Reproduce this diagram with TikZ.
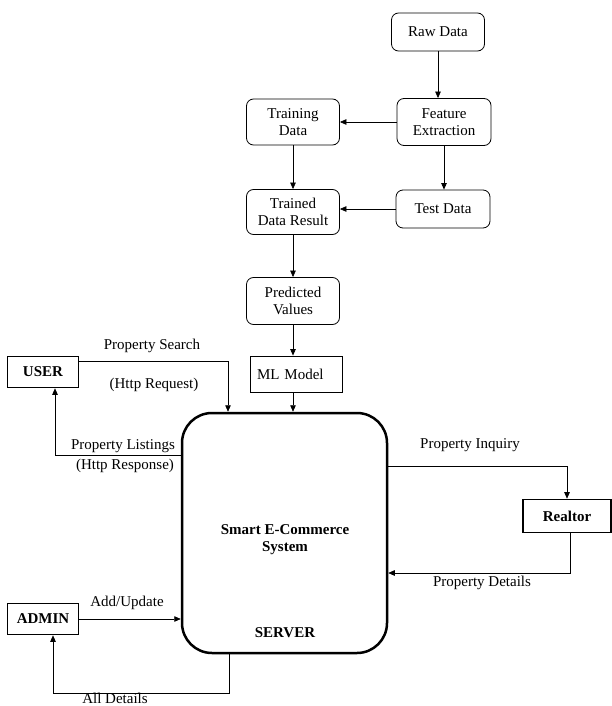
\documentclass[tikz,border=0pt]{standalone}
\usepackage{fontspec}
\setmainfont{Liberation Serif}
\usepackage{tikz}
\usetikzlibrary{arrows.meta, positioning, calc}

\begin{document}
\begin{tikzpicture}[
    x=1pt, y=-1pt,
    font=\fontsize{15}{17}\selectfont,
    databox/.style={rectangle, rounded corners=7pt, draw, line width=0.8pt, minimum width=93pt, align=center},
    actor/.style={rectangle, draw, line width=1.6pt, minimum width=71pt, minimum height=31pt, font=\fontsize{15}{17}\selectfont\bfseries},
    arrow/.style={-{Triangle[length=6.5pt, width=5.5pt]}, line width=0.7pt},
    flow/.style={font=\fontsize{15}{17}\selectfont}
]
    \useasboundingbox (0,0) rectangle (612,706);

    % ML pipeline
    \node[databox, minimum height=38pt] (raw) at (438,32) {Raw Data};
    \node[databox, minimum height=47pt, minimum width=94pt] (feature) at (444,122) {Feature\\Extraction};
    \node[databox, minimum height=46pt] (training) at (293,122) {Training\\Data};
    \node[databox, minimum height=45pt] (trained) at (293,212) {Trained\\Data Result};
    \node[databox, minimum height=38pt, minimum width=94pt] (test) at (443,209) {Test Data};
    \node[databox, minimum height=47pt] (predicted) at (293,301) {Predicted\\Values};
    \node[rectangle, draw, line width=0.8pt, minimum width=92pt, minimum height=36pt, text width=78pt] (ml) at (296,374) {ML Model};

    % Server
    \node[rectangle, draw, rounded corners=30pt, line width=2.5pt, minimum width=205pt, minimum height=240pt] (server) at (284.5,533) {};
    \node[font=\fontsize{15}{17}\selectfont\bfseries, align=center] (system) at (285,540) {Smart E-Commerce\\System};
    \node[font=\fontsize{15}{17}\selectfont\bfseries] (servername) at (285,633) {SERVER};

    % External entities
    \node[actor] (user) at (43,372) {USER};
    \node[actor] (admin) at (43,619) {ADMIN};
    \node[actor, minimum width=88pt, minimum height=33pt] (realtor) at (567,516) {Realtor};

    % Pipeline arrows
    \draw[arrow] (raw.south) -- (raw.south |- feature.north);
    \draw[arrow] (feature.west) -- (training.east);
    \draw[arrow] (feature.south) -- (feature.south |- test.north);
    \draw[arrow] (training) -- (trained);
    \draw[arrow] (test.west) -- (test.west -| trained.east);
    \draw[arrow] (trained) -- (predicted);
    \draw[arrow] (predicted.south) -- (predicted.south |- ml.north);
    \draw[arrow] ([xshift=-3pt]ml.south) -- ([xshift=-3pt]ml.south |- server.north);

    % Data flows
    \draw[arrow] ([yshift=-6pt]user.north east) -| ([xshift=-56.5pt]server.north);
    \draw[arrow] ([yshift=-44pt]server.north west) -| ([xshift=12pt]user.south);
    \draw[arrow] (admin.east) -- (admin.east -| server.west);
    \draw[arrow] ([xshift=-55.5pt]server.south) -- ++(0,39) -| ([xshift=10pt]admin.south);
    \draw[arrow] ([yshift=-55pt]server.north east) -| (realtor.north);
    \draw[arrow] ([xshift=3pt]realtor.south) |- ([yshift=-40pt]server.east);

    % Flow labels
    \node[flow] (searchlbl) at (152,346) {Property Search};
    \node[flow] (requestlbl) at (154,385) {(Http Request)};
    \node[flow] (listinglbl) at (123,446) {Property Listings};
    \node[flow] (responselbl) at (125,466) {(Http Response)};
    \node[flow] (inquirylbl) at (470,445) {Property Inquiry};
    \node[flow] (detailslbl) at (482,583) {Property Details};
    \node[flow] (updatelbl) at (127,603) {Add/Update};
    \node[flow] (alldetlbl) at (115,698) {All Details};
\end{tikzpicture}
\end{document}
